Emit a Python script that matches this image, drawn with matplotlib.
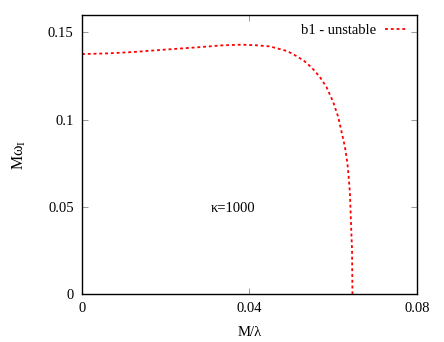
import matplotlib
matplotlib.use("Agg")
import matplotlib.pyplot as plt

plt.rcParams['font.family'] = ['Liberation Serif', 'DejaVu Serif']
plt.rcParams['mathtext.fontset'] = 'custom'
plt.rcParams['mathtext.rm'] = 'Liberation Serif'
plt.rcParams['mathtext.it'] = 'Liberation Serif'

x_vals = [0.0, 0.006, 0.0123, 0.02, 0.0282, 0.0334, 0.038, 0.0414, 0.0449, 0.0489,
          0.0505, 0.0529, 0.0549, 0.0568, 0.0584, 0.0600, 0.0612, 0.0620, 0.0628,
          0.0634, 0.0637, 0.0640, 0.0642, 0.0645, 0.0646]
y_vals = [0.1376, 0.1380, 0.1388, 0.1402, 0.1416, 0.1426, 0.1430, 0.1427, 0.1420, 0.1394,
          0.1375, 0.1340, 0.1298, 0.1245, 0.1187, 0.1101, 0.1016, 0.0930, 0.0844,
          0.0749, 0.0672, 0.0577, 0.0443, 0.0252, 0.0]
series_label = "b1 - unstable"
xticks = [0, 0.04, 0.08]
xticklabels = ["0", "0.04", "0.08"]
yticks = [0, 0.05, 0.1, 0.15]
yticklabels = ["0", "0.05", "0.1", "0.15"]

fig = plt.figure(figsize=(4.44, 3.42), dpi=100)
ax = fig.add_axes([0.1847, 0.1404, 0.7543, 0.8156])
ax.plot(x_vals, y_vals, color='#ff0000', linestyle=(0, (1.6, 1.6)), linewidth=1.3,
        label=series_label)
ax.set_xlim(0, 0.08)
ax.set_ylim(0, 0.16)
ax.set_xticks(xticks)
ax.set_xticklabels(xticklabels)
ax.set_yticks(yticks)
ax.set_yticklabels(yticklabels)
ax.tick_params(direction='in', length=4, width=0.6, color='#888888',
               top=True, right=True, labelsize=10.5, pad=6)
for s in ax.spines.values():
    s.set_linewidth(1.0)
ax.set_xlabel('M/λ', fontsize=10.5, labelpad=8)
ax.set_ylabel('Mω$_\\mathrm{I}$', fontsize=11.5, labelpad=14)
ax.text(0.036, 0.049, 'κ=1000', fontsize=10.5, ha='center', va='center')
leg = ax.legend(loc='upper right', frameon=False, fontsize=10.5, handlelength=1.6,
                markerfirst=False, borderaxespad=0.2, handletextpad=0.6)
fig.savefig('out.png', dpi=100)
